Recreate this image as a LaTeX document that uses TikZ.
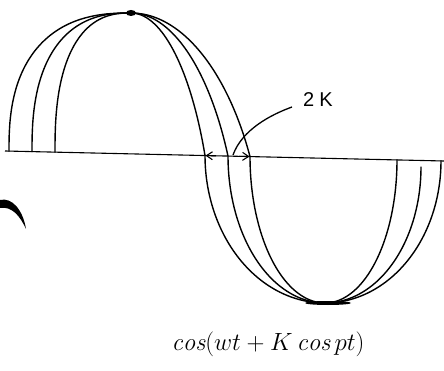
\documentclass[tikz,border=0pt]{standalone}
\usepackage{fontspec}
\newfontfamily\handsans{Liberation Sans}
\usetikzlibrary{arrows.meta}
\tikzset{
  wvTL/.style 2 args={insert path={-- plot[domain=0.2:89.8,samples=50,smooth] ({#1+(131-#1)*(1-pow(cos(\x),0.8))},{#2-(#2-13)*pow(sin(\x),0.8)})}},
  wvTR/.style 2 args={insert path={-- plot[domain=90:0,samples=40,smooth] ({#1-(#1-131)*(0.5*(1-cos(\x))+0.5*\x/90)},{#2-(#2-13)*sin(\x)})}},
  wvBL/.style 2 args={insert path={-- plot[domain=0:90,samples=40,smooth] ({#1+(325-#1)*(1-cos(\x))},{#2+(303-#2)*sin(\x)})}},
  wvBR/.style 2 args={insert path={-- plot[domain=90:0,samples=40,smooth] ({#1-(#1-325)*(1-cos(\x))},{#2+(303-#2)*sin(\x)})}}
}
\begin{document}
\begin{tikzpicture}[x=1pt,y=-1pt,
  wave/.style={line width=1.4pt,line join=round,line cap=round},
  axisline/.style={line width=1.1pt},
  dimtip/.style={line width=1.1pt,-{Straight Barb[length=6pt,width=8pt]}},
  leader/.style={line width=1.3pt},
  lbl/.style={inner sep=0pt,font=\handsans\fontsize{20}{24}\selectfont},
  formula/.style={inner sep=0pt,font=\fontsize{25}{30}\selectfont}]
\useasboundingbox (0,0) rectangle (444,371);
% axis
\draw[axisline] (5,151) -- (444,161);
% three curves
\draw[wave] (9,151.1) [wvTL={9}{151.1}] -- (131,13) [wvTR={205}{155.5}] [wvBL={205}{155.5}] -- (325,303) [wvBR={397}{159.9}];
\draw[wave] (32,151.6) [wvTL={32}{151.6}] -- (131,13) [wvTR={228}{156.1}] [wvBL={228}{156.1}] -- (325,303) [wvBR={421}{167}];
\draw[wave] (55,152.1) [wvTL={55}{152.1}] -- (131,13) [wvTR={250}{156.6}] [wvBL={250}{156.6}] -- (325,303) [wvBR={441}{160.9}];
% pinch points
\fill (131,13) ellipse [x radius=5pt,y radius=3pt];
\fill (328,303) ellipse [x radius=23pt,y radius=2pt];
% dimension marks
\draw[dimtip] (216,155.8) -- (205.5,155.6);
\draw[dimtip] (239,156.3) -- (249.5,156.5);
% label and leader
\node[lbl,anchor=west] (k2) at (303,100) {2\kern5pt K};
\coordinate (lend) at (233,155);
\draw[leader] ([shift={(-11,7)}]k2.west) .. controls (270,115) and (242,130) .. (lend);
% formula
\node[formula] (f) at (268,344) {$\mathit{cos}(wt + K\,\mathit{cos}\,pt)$};
% blot on left
\fill (0,200) .. controls (12,197) and (23,210) .. (26,229) .. controls (20,216) and (12,206) .. (0,208) -- cycle;
\end{tikzpicture}
\end{document}
